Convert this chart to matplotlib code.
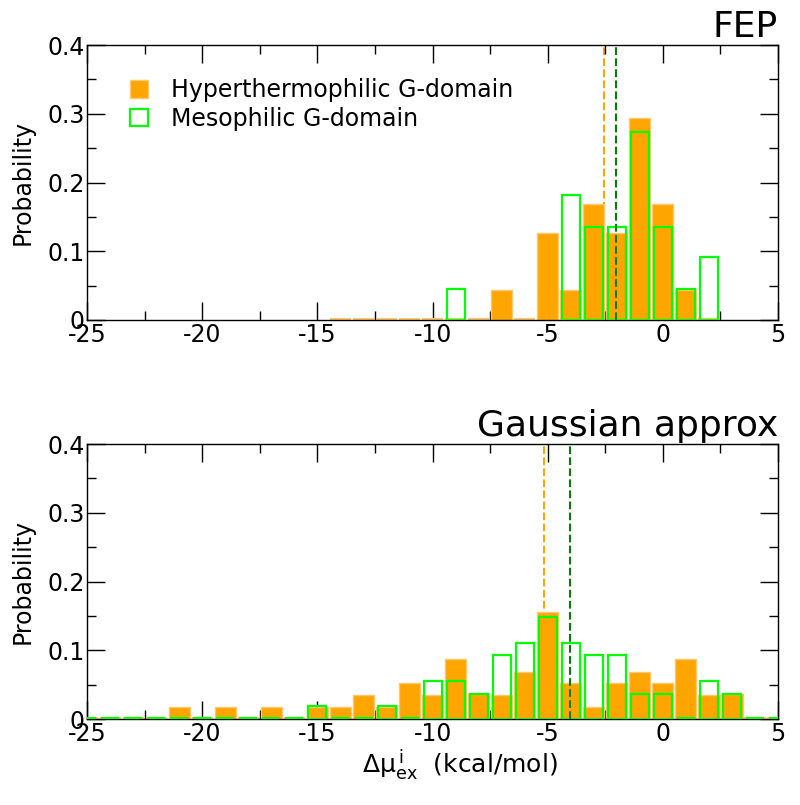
import matplotlib
matplotlib.use('Agg')

import matplotlib.pyplot as plt
import numpy as np
from matplotlib.patches import Patch
from matplotlib.ticker import MultipleLocator, FuncFormatter

plt.rcParams['axes.unicode_minus'] = False
plt.rcParams['font.family'] = 'DejaVu Sans'

ORANGE = '#FFA500'
ORANGE_EDGE = '#FFC870'
LIME = '#00FF00'
DARKGREEN = '#008000'

# FEP panel (bin centres in kcal/mol)
fep_hyper_x = [-14, -13, -12, -11, -10, -9, -8, -7, -6, -5, -4, -3, -2, -1, 0, 1, 2]
fep_hyper_p = [0, 0, 0, 0, 0, 0, 0, 0.044, 0, 0.127, 0.044, 0.169, 0.127, 0.294, 0.169, 0.044, 0]
fep_meso_x = [-9, -4, -3, -2, -1, 0, 1, 2]
fep_meso_p = [0.045, 0.182, 0.136, 0.136, 0.273, 0.136, 0.045, 0.091]
fep_hyper_mean = -2.55
fep_meso_mean = -2.05

# Gaussian approx panel
gau_x = list(range(-25, 6))
gau_hyper_p = [0, 0, 0, 0, 0.018, 0, 0.018, 0, 0.018, 0, 0.018, 0.018, 0.035, 0.018, 0.052, 0.035,
               0.087, 0.037, 0.035, 0.069, 0.156, 0.052, 0.018, 0.052, 0.069, 0.052, 0.087, 0.035,
               0.037, 0, 0]
gau_meso_p = [0, 0, 0, 0, 0, 0, 0, 0, 0, 0, 0.019, 0, 0, 0.019, 0, 0.056,
              0.056, 0.037, 0.093, 0.111, 0.148, 0.111, 0.093, 0.093, 0.037, 0.037, 0, 0.056,
              0.037, 0, 0]
gau_hyper_mean = -5.15
gau_meso_mean = -4.05

FS = 17


def style_axes(ax):
    ax.set_xlim(-25, 5)
    ax.set_ylim(0, 0.4)
    ax.xaxis.set_major_locator(MultipleLocator(5))
    ax.xaxis.set_minor_locator(MultipleLocator(2.5))
    ax.yaxis.set_major_locator(MultipleLocator(0.1))
    ax.yaxis.set_minor_locator(MultipleLocator(0.05))
    ax.yaxis.set_major_formatter(FuncFormatter(lambda v, p: '0' if abs(v) < 1e-9 else '%.1f' % v))
    ax.tick_params(which='both', direction='in', top=True, right=True, width=1.0, labelsize=FS)
    ax.tick_params(which='major', length=13, pad=2)
    ax.tick_params(which='minor', length=6.5)
    for s in ax.spines.values():
        s.set_linewidth(1.0)
    ax.set_ylabel('Probability', fontsize=FS, labelpad=9)


def draw_hist(ax, x, p, width, **kw):
    # empty bins show up as a short line sitting on the axis
    x = np.asarray(x)
    p = np.asarray(p)
    zero = p == 0
    ax.bar(x[~zero], p[~zero], width=width, **kw)
    ec = kw.get('edgecolor')
    ax.bar(x[zero], p[zero], width=width, facecolor='none', edgecolor=ec,
           lw=3.0, zorder=kw.get('zorder', 2))


fig = plt.figure(figsize=(8.0, 8.05), dpi=100)

ax1 = fig.add_axes([0.109, 0.6025, 0.8635, 0.3415])
ax1.axvline(fep_hyper_mean, color=ORANGE, ls='--', lw=1.5, zorder=1)
draw_hist(ax1, fep_hyper_x, fep_hyper_p, 0.92, color=ORANGE, edgecolor=ORANGE_EDGE, lw=1.0, zorder=2)
draw_hist(ax1, fep_meso_x, fep_meso_p, 0.78, facecolor='none', edgecolor=LIME, lw=1.6, zorder=3)
ax1.axvline(fep_meso_mean, color=DARKGREEN, ls='--', lw=1.5, zorder=4)
style_axes(ax1)
ax1.set_title('FEP', loc='right', fontsize=26, pad=6)

handles = [Patch(facecolor=ORANGE, edgecolor=ORANGE_EDGE, lw=1.0),
           Patch(facecolor='none', edgecolor=LIME, lw=1.6)]
ax1.legend(handles, ['Hyperthermophilic G-domain', 'Mesophilic G-domain'],
           loc='upper left', bbox_to_anchor=(0.045, 0.922), frameon=False, fontsize=FS,
           handlelength=0.75, handleheight=0.75, handletextpad=1.0, labelspacing=0.2, borderpad=0)

ax2 = fig.add_axes([0.109, 0.1068, 0.8635, 0.3416])
ax2.axvline(gau_hyper_mean, color=ORANGE, ls='--', lw=1.5, zorder=1)
draw_hist(ax2, gau_x, gau_hyper_p, 0.92, color=ORANGE, edgecolor=ORANGE_EDGE, lw=1.0, zorder=2)
draw_hist(ax2, gau_x, gau_meso_p, 0.78, facecolor='none', edgecolor=LIME, lw=1.6, zorder=3)
ax2.axvline(gau_meso_mean, color=DARKGREEN, ls='--', lw=1.5, zorder=4)
style_axes(ax2)
ax2.set_title('Gaussian approx', loc='right', fontsize=26, pad=6)
ax2.set_xlabel(r'Δμ$_{\mathrm{ex}}^{\,\mathrm{i}}$  (kcal/mol)', fontsize=18)
ax2.xaxis.set_label_coords(0.54, -0.105)

plt.savefig('out.png', dpi=100)
